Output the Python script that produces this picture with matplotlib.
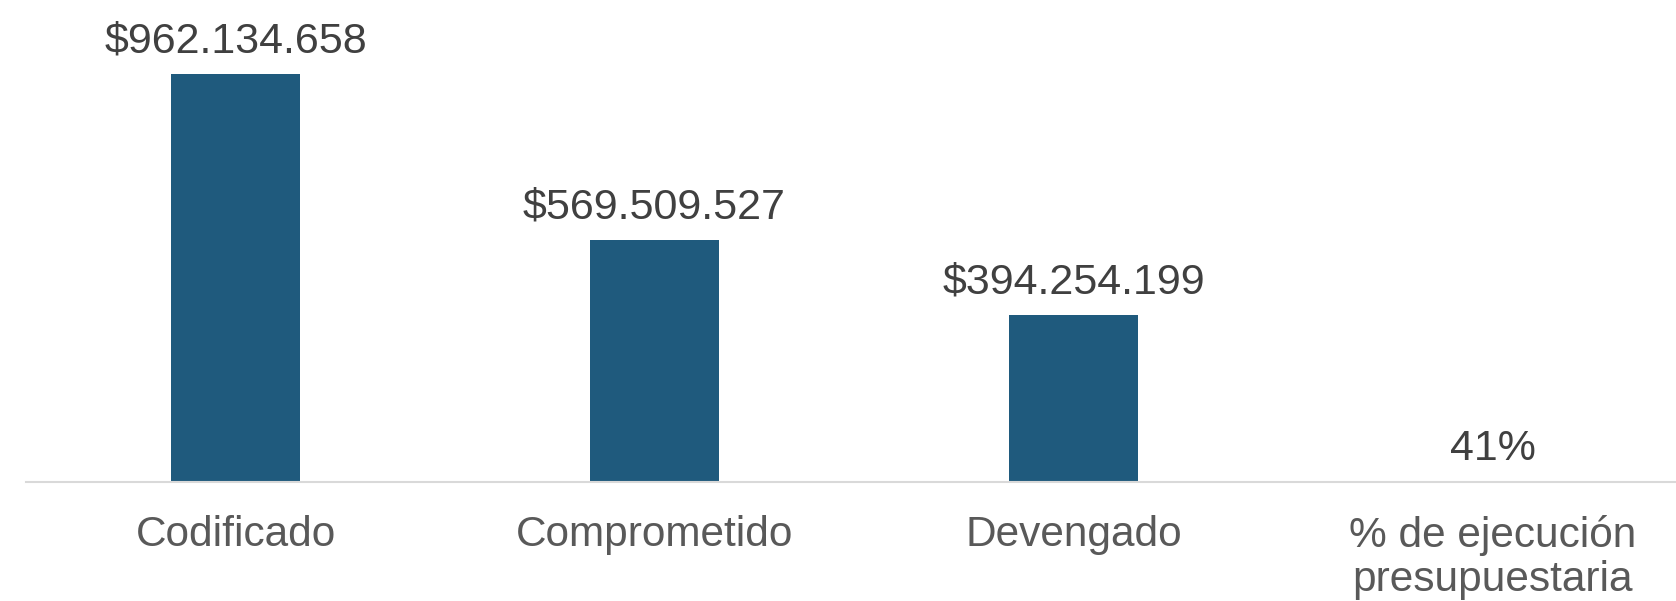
import matplotlib.pyplot as plt

plt.rcParams['font.family'] = ['Liberation Sans', 'DejaVu Sans']

categories = ['Codificado', 'Comprometido', 'Devengado', '% de ejecución\npresupuestaria']
values = [962134658, 569509527, 394254199, 0]
labels = ['$962.134.658', '$569.509.527', '$394.254.199', '41%']

fig = plt.figure(figsize=(16.76, 6.01), dpi=100)
ax = fig.add_axes([26 / 1676, 119 / 601, 1676 / 1676, 482 / 601])

x = range(len(categories))
bars = ax.bar(x, values, width=0.31, color='#1F5A7D', zorder=2)

for xi, v, lab in zip(x, values, labels):
    ax.annotate(lab, (xi, v), xytext=(0, 9), textcoords='offset points',
                ha='center', va='bottom', fontsize=31, color='#404040')

ax.set_xlim(-0.5, 3.5)
ax.set_ylim(0, 962134658 * 482 / 408)
ax.set_xticks(list(x))
ax.set_xticklabels(categories, fontsize=30.5, color='#595959', linespacing=1.12)
ax.tick_params(axis='x', length=0, pad=24)
ax.set_yticks([])
for s in ['top', 'right', 'left']:
    ax.spines[s].set_visible(False)
ax.spines['bottom'].set_color('#D9D9D9')
ax.spines['bottom'].set_linewidth(1.5)

fig.savefig('out.png', dpi=100)
